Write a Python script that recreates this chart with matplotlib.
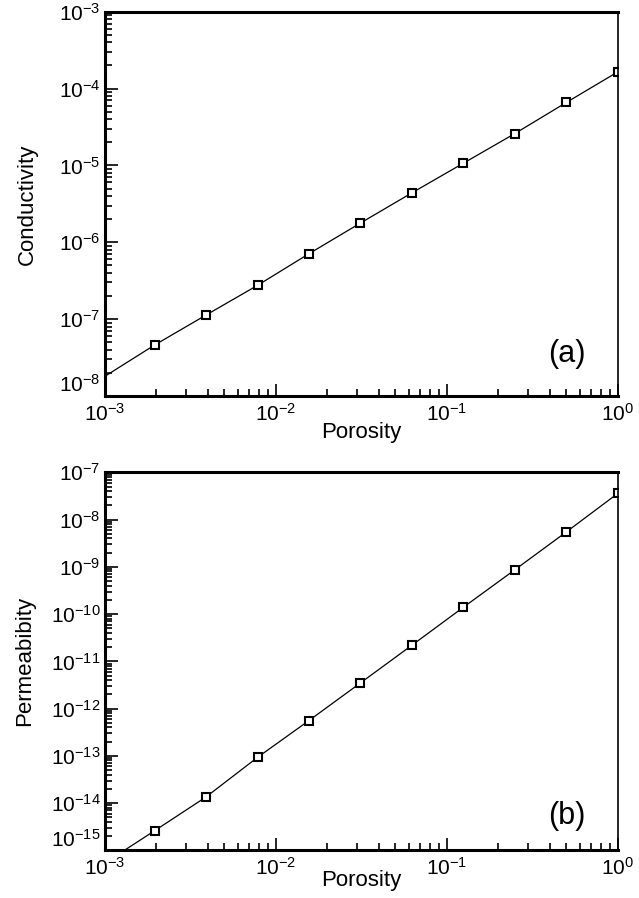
import numpy as np
import matplotlib
matplotlib.use("Agg")
import matplotlib.pyplot as plt
from matplotlib.ticker import LogLocator, NullFormatter

plt.rcParams['font.family'] = ['Liberation Sans', 'DejaVu Sans']
plt.rcParams['mathtext.fontset'] = 'custom'
plt.rcParams['mathtext.rm'] = 'Liberation Sans'
plt.rcParams['mathtext.it'] = 'Liberation Sans'

# porosity values of the sampled points
porosity = [0.001953, 0.003906, 0.007813, 0.015625, 0.03125,
            0.0625, 0.125, 0.25, 0.5, 1.0]
conductivity = [4.6e-8, 1.13e-7, 2.75e-7, 7.1e-7, 1.78e-6,
                4.4e-6, 1.07e-5, 2.6e-5, 6.6e-5, 1.65e-4]
permeability = [2.6e-15, 1.35e-14, 9.3e-14, 5.6e-13, 3.5e-12,
                2.2e-11, 1.4e-10, 8.7e-10, 5.5e-9, 3.6e-8]

# fitted line runs from the left edge
line_x = [0.001] + porosity
cond_line = [1.8e-8] + conductivity
perm_line = [5.4e-16] + permeability


def style_axes(ax, ylim):
    ax.set_xscale('log')
    ax.set_yscale('log')
    ax.set_xlim(1e-3, 1.0)
    ax.set_ylim(*ylim)
    ax.spines['left'].set_linewidth(2.2)
    ax.spines['bottom'].set_linewidth(2.2)
    ax.spines['top'].set_linewidth(2.2)
    ax.spines['right'].set_linewidth(1.2)
    ax.set_xticks([1e-3, 1e-2, 1e-1, 1.0])
    ax.xaxis.set_minor_locator(LogLocator(base=10, subs=np.arange(2, 10), numticks=10))
    ax.xaxis.set_minor_formatter(NullFormatter())
    lo, hi = np.log10(ylim)
    ax.set_yticks(10.0 ** np.arange(round(lo), round(hi) + 1))
    ax.yaxis.set_minor_locator(LogLocator(base=10, subs=np.arange(2, 10), numticks=20))
    ax.yaxis.set_minor_formatter(NullFormatter())
    ax.tick_params(which='both', direction='in', top=False, right=False,
                   labelsize=15, width=1.2)
    ax.tick_params(which='major', length=9)
    ax.tick_params(which='minor', length=5)
    ax.tick_params(axis='x', which='major', pad=5)
    ax.tick_params(axis='y', which='major', pad=3)
    # lowest y label sits above its tick, clear of the x labels
    ax.yaxis.get_major_ticks()[0].label1.set_verticalalignment('bottom')


fig = plt.figure(figsize=(6.39, 8.98), dpi=100)

ax1 = fig.add_axes([0.164, 0.559, 0.803, 0.428])
ax1.plot(line_x, cond_line, color='black', linewidth=0.9)
ax1.plot(porosity, conductivity, linestyle='none', marker='s', markersize=5.5,
         markerfacecolor='white', markeredgecolor='black', markeredgewidth=1.5)
style_axes(ax1, (1e-8, 1e-3))
ax1.set_xlabel('Porosity', fontsize=16, va='center')
ax1.set_ylabel('Conductivity', fontsize=16, va='center')
ax1.xaxis.set_label_coords(0.5, -0.094)
ax1.yaxis.set_label_coords(-0.150, 0.5)
ax1.text(0.90, 0.11, '(a)', transform=ax1.transAxes, fontsize=22,
         ha='center', va='center')

ax2 = fig.add_axes([0.164, 0.053, 0.803, 0.421])
ax2.plot(line_x, perm_line, color='black', linewidth=0.9)
ax2.plot(porosity, permeability, linestyle='none', marker='s', markersize=5.5,
         markerfacecolor='white', markeredgecolor='black', markeredgewidth=1.5)
style_axes(ax2, (1e-15, 1e-7))
ax2.set_xlabel('Porosity', fontsize=16, va='center')
ax2.set_ylabel('Permeabibity', fontsize=16, va='center')
ax2.xaxis.set_label_coords(0.5, -0.079)
ax2.yaxis.set_label_coords(-0.156, 0.5)
ax2.text(0.90, 0.09, '(b)', transform=ax2.transAxes, fontsize=22,
         ha='center', va='center')

fig.savefig('out.png', dpi=100)
